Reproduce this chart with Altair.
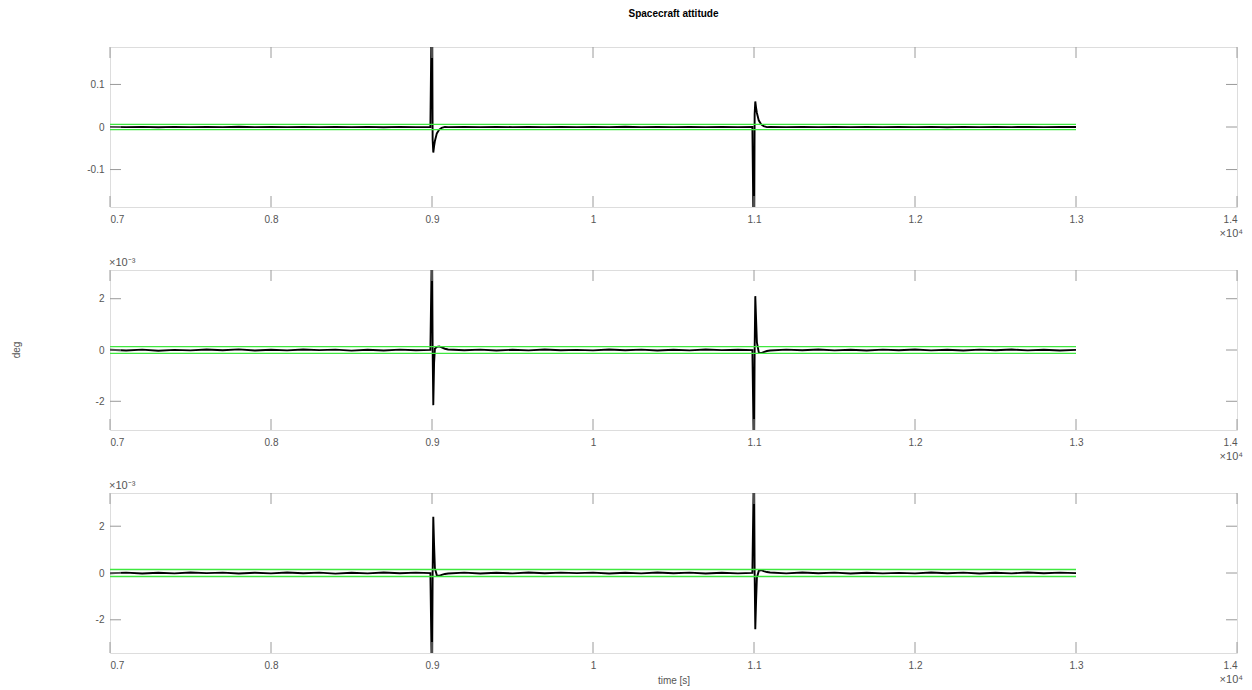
import altair as alt
import pandas as pd

# ---------------- data ----------------
T = [7000, 7100, 7200, 7300, 7400, 7500, 7600, 7700, 7800, 7900,
     8000, 8100, 8200, 8300, 8400, 8500, 8600, 8700, 8800, 8900, 8990,
     9000, 9004, 9008, 9013, 9018, 9030, 9045, 9060, 9080,
     9100, 9200, 9300, 9400, 9500, 9600, 9700, 9800, 9900,
     10000, 10100, 10200, 10300, 10400, 10500, 10600, 10700, 10800, 10900, 10990,
     11000, 11004, 11008, 11013, 11018, 11030, 11045, 11060, 11080,
     11100, 11200, 11300, 11400, 11500, 11600, 11700, 11800, 11900,
     12000, 12100, 12200, 12300, 12400, 12500, 12600, 12700, 12800, 12900, 13000]

# panel 1 (deg)
V1 = [0.0004, -0.0003, 0.0002, -0.0005, 0.0003, -0.0002, 0.0004, -0.0003, 0.0005, -0.0004,
      0.0002, -0.0004, 0.0003, -0.0002, 0.0004, -0.0003, 0.0002, -0.0005, 0.0003, -0.0002, 0.0001,
      0.35, -0.03, -0.06, -0.045, -0.033, -0.015, -0.006, -0.002, 0.0002,
      -0.0003, 0.0004, -0.0002, 0.0004, -0.0003, 0.0002, -0.0004, 0.0003, -0.0002,
      0.0003, -0.0003, 0.0005, -0.0002, 0.0003, -0.0004, 0.0002, -0.0003, 0.0004, -0.0002, 0.0001,
      -0.35, 0.03, 0.06, 0.045, 0.033, 0.015, 0.006, 0.002, -0.0002,
      0.0003, -0.0004, 0.0002, -0.0004, 0.0003, -0.0002, 0.0004, -0.0003, 0.0002,
      -0.0003, 0.0003, -0.0005, 0.0002, -0.0003, 0.0004, -0.0002, 0.0003, -0.0004, 0.0002, -0.0001]

# panel 2 (x 1e-3 deg)
V2 = [0.01, -0.02, 0.015, -0.03, 0.005, -0.015, 0.02, -0.01, 0.025, -0.02,
      0.01, -0.015, 0.02, -0.005, 0.015, -0.025, 0.01, -0.02, 0.015, -0.01, 0.005,
      4.5, 0.0, -2.15, -0.5, 0.05, 0.12, 0.14, 0.10, 0.05,
      0.02, -0.01, 0.015, -0.02, 0.01, -0.015, 0.02, -0.01, 0.005,
      -0.015, 0.02, -0.01, 0.015, -0.02, 0.01, -0.015, 0.02, -0.005, 0.01, -0.005,
      -4.5, 0.0, 2.1, 1.2, 0.3, -0.10, -0.12, -0.08, -0.04,
      -0.02, 0.015, -0.01, 0.02, -0.015, 0.01, -0.02, 0.015, -0.01,
      0.02, -0.015, 0.01, -0.02, 0.015, -0.01, 0.02, -0.015, 0.01, -0.02, 0.005]

# panel 3 (x 1e-3 deg)
V3 = [-0.01, 0.015, -0.02, 0.01, -0.015, 0.02, -0.005, 0.015, -0.02, 0.01,
      -0.015, 0.02, -0.01, 0.015, -0.025, 0.01, -0.015, 0.02, -0.01, 0.015, -0.005,
      -5.0, 0.0, 2.4, 1.2, 0.2, -0.10, -0.12, -0.08, -0.04,
      -0.02, 0.015, -0.02, 0.01, -0.015, 0.02, -0.01, 0.015, -0.005,
      0.015, -0.02, 0.01, -0.015, 0.02, -0.01, 0.015, -0.02, 0.01, -0.015, 0.005,
      5.0, 0.0, -2.4, -1.2, -0.2, 0.10, 0.12, 0.08, 0.04,
      0.02, -0.015, 0.02, -0.01, 0.015, -0.02, 0.01, -0.015, 0.005,
      -0.015, 0.02, -0.01, 0.015, -0.02, 0.01, -0.015, 0.02, -0.01, 0.015, -0.005]

GREEN = [0.006, 0.13, 0.15]          # half-width of green band per panel
YDOM = [[-0.188, 0.188], [-3.12, 3.12], [-3.42, 3.42]]
YTICKS = [[-0.1, 0, 0.1], [-2, 0, 2], [-2, 0, 2]]
XTICKS = [7000, 8000, 9000, 10000, 11000, 12000, 13000, 14000]
T_START, T_END = 7000, 13000

W, H = 1127, 160
FONT = "Liberation Sans"
LABEL = "#555555"
FRAME = "#9a9a9a"
TL = 11  # inward tick length


def panel(vals, dom, yt, g, top_exp, title=None, xtitle=None, deg=False):
    x_enc = alt.X("t:Q",
                  scale=alt.Scale(domain=[7000, 14000], nice=False, zero=False),
                  axis=alt.Axis(values=XTICKS,
                                labelExpr="format(datum.value/10000, '.2~f')",
                                ticks=False, domain=False, grid=False,
                                labelPadding=7, labelFontSize=10, labelColor=LABEL,
                                labelFont=FONT, title=xtitle, titleFont=FONT,
                                titleFontSize=10, titleFontWeight="normal",
                                titleColor=LABEL, titlePadding=5))
    y_enc = alt.Y("v:Q",
                  scale=alt.Scale(domain=dom, nice=False, zero=False),
                  axis=alt.Axis(values=yt,
                                labelExpr="datum.value < 0 ? '-' + format(-datum.value, '~g') : format(datum.value, '~g')",
                                ticks=False, domain=False, grid=False,
                                labelPadding=6, labelFontSize=10, labelColor=LABEL,
                                labelFont=FONT, title=None,
                                minExtent=109, maxExtent=109))

    df = pd.DataFrame({"t": T, "v": vals})
    line = alt.Chart(df).mark_line(color="black", strokeWidth=1.9, clip=True).encode(
        x=x_enc, y=y_enc)

    gdf = pd.DataFrame({"t": [T_START, T_END, T_START, T_END],
                        "v": [g, g, -g, -g],
                        "s": ["u", "u", "l", "l"]})
    green = alt.Chart(gdf).mark_line(color="#3ee83e", strokeWidth=1.3).encode(
        x=x_enc, y=y_enc, detail="s:N")

    xt = pd.DataFrame({"t": XTICKS})
    yt_df = pd.DataFrame({"v": yt})
    tick_b = alt.Chart(xt).mark_rule(color=FRAME, strokeWidth=1).encode(
        x=x_enc, y=alt.value(H), y2=alt.value(H - TL))
    tick_t = alt.Chart(xt).mark_rule(color=FRAME, strokeWidth=1).encode(
        x=x_enc, y=alt.value(0), y2=alt.value(TL))
    tick_l = alt.Chart(yt_df).mark_rule(color=FRAME, strokeWidth=1).encode(
        y=y_enc, x=alt.value(0), x2=alt.value(TL))
    tick_r = alt.Chart(yt_df).mark_rule(color=FRAME, strokeWidth=1).encode(
        y=y_enc, x=alt.value(W), x2=alt.value(W - TL))

    exp4 = alt.Chart(pd.DataFrame({"a": [0]})).mark_text(
        text="×10⁴", align="right", baseline="middle", dx=6, dy=27,
        fontSize=11, font=FONT, color=LABEL).encode(
        x=alt.datum(14000), y=alt.datum(dom[0]))

    layers = [line, green, tick_b, tick_t, tick_l, tick_r, exp4]

    if top_exp:
        exp3 = alt.Chart(pd.DataFrame({"a": [0]})).mark_text(
            text="×10⁻³", align="left", baseline="middle", dx=-1, dy=-7,
            fontSize=11, font=FONT, color=LABEL).encode(
            x=alt.datum(7000), y=alt.datum(dom[1]))
        layers.append(exp3)

    if deg:
        degt = alt.Chart(pd.DataFrame({"a": [0]})).mark_text(
            text="deg", angle=270, align="center", baseline="middle",
            fontSize=10, font=FONT, color=LABEL).encode(
            x=alt.value(-93), y=alt.datum(0))
        layers.append(degt)

    ch = alt.layer(*layers).properties(width=W, height=H)
    if title:
        ch = ch.properties(title=alt.TitleParams(
            title, fontSize=10, fontWeight="bold", font=FONT, color="black",
            anchor="middle", frame="group", offset=28))
    return ch


p1 = panel(V1, YDOM[0], YTICKS[0], GREEN[0], False, title="Spacecraft attitude")
p2 = panel(V2, YDOM[1], YTICKS[1], GREEN[1], True, deg=True)
p3 = panel(V3, YDOM[2], YTICKS[2], GREEN[2], True, xtitle="time [s]")

chart = alt.vconcat(p1, p2, p3, spacing=63, bounds="flush").properties(
    padding={"left": 0, "top": 8, "right": 0, "bottom": 0}
).configure_view(stroke=FRAME, strokeWidth=1.2).configure(background="white")

chart.save("out.html", embed_options={"renderer": "svg", "actions": False})
